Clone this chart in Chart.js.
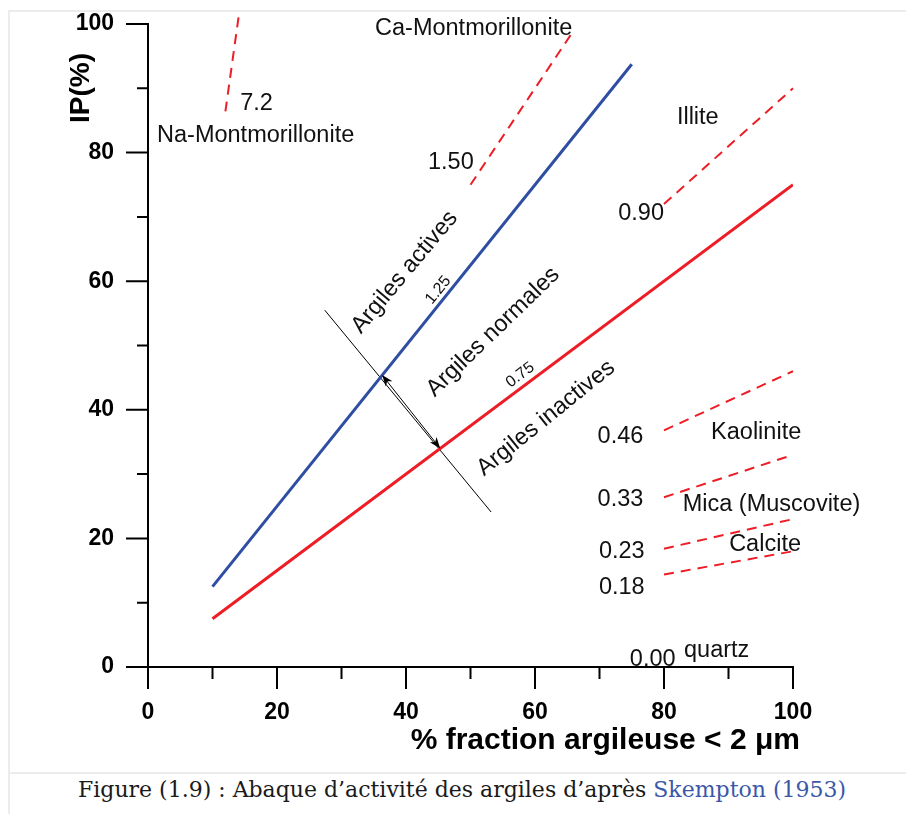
<!DOCTYPE html>
<html>
<head>
<meta charset="utf-8">
<script src="https://cdn.jsdelivr.net/npm/chart.js@4.4.0/dist/chart.umd.min.js"></script>
<style>
  body { margin: 0; background: #fff; width: 906px; height: 814px; overflow: hidden; position: relative; }
  #wrap { position: absolute; left: 0; top: 0; width: 906px; height: 773px; }
  .rule { position: absolute; background: #ececec; }
  #caption { position: absolute; left: 78px; top: 777px; white-space: nowrap;
    font-family: 'DejaVu Serif', serif; font-size: 22px; color: #1a1a1a; }
  #caption span { color: #3b58a8; }
</style>
</head>
<body>
<div class="rule" style="left:8px;top:10px;width:898px;height:2px"></div>
<div class="rule" style="left:8px;top:10px;width:2px;height:804px"></div>
<div class="rule" style="left:8px;top:772px;width:898px;height:2px"></div>
<div id="wrap"><canvas id="abaque" width="906" height="773"></canvas></div>
<div id="caption">Figure (1.9) : Abaque d’activité des argiles d’après <span>Skempton (1953)</span></div>
<script>
// axis ticks
var xTicks = [0, 20, 40, 60, 80, 100];
var yTicks = [0, 20, 40, 60, 80, 100];

// activity boundaries (Ip = A * fraction)
var activeX = [10, 75];
var activeY = [12.5, 93.75];
var inactiveX = [10, 100];
var inactiveY = [7.5, 75];

// mineral lines (dashed), activity
var mineralNames = ['Na-Montmorillonite', 'Ca-Montmorillonite', 'Illite', 'Kaolinite', 'Mica (Muscovite)', 'Calcite', '0.18', 'quartz'];
var mineralActivity = ['7.2', '1.50', '0.90', '0.46', '0.33', '0.23', '0.18', '0.00'];
var mineralX = [[12, 14.1], [50, 66], [80, 100], [80, 100], [80, 100], [80, 100], [80, 100]];
var mineralY = [[86.4, 101.5], [75, 99], [72, 90], [36.8, 46], [26.4, 33], [18.4, 23], [14.4, 18]];

// separation line between zones and the double arrow
var sepX = [27.4, 53.2];
var sepY = [55.5, 24.1];
var arrowX = [36.3, 45.3];
var arrowY = [45.4, 34.0];

function pts(xs, ys) {
    return xs.map(function (x, i) { return { x: x, y: ys[i] }; });
}

var red = '#ee1c25';
var blue = '#2e4ea3';

var datasets = [];
mineralX.forEach(function (xs, i) {
    datasets.push({
        label: mineralNames[i],
        data: pts(xs, mineralY[i]),
        borderColor: red,
        borderWidth: 2,
        borderDash: [10, 7],
        clip: false
    });
});
datasets.push({ label: 'actives', data: pts(activeX, activeY), borderColor: blue, borderWidth: 3 });
datasets.push({ label: 'inactives', data: pts(inactiveX, inactiveY), borderColor: red, borderWidth: 3 });
datasets.push({ label: 'sep', data: pts(sepX, sepY), borderColor: '#000', borderWidth: 1 });
datasets.push({ label: 'arrow', data: pts(arrowX, arrowY), borderColor: '#000', borderWidth: 1 });

datasets.forEach(function (d) {
    d.showLine = true;
    d.pointRadius = 0;
    d.fill = false;
});

// text placed on the chart (data coordinates)
var notes = [
    { t: '7.2', x: 14.3, y: 87.7, a: 'left' },
    { t: 'Na-Montmorillonite', x: 1.4, y: 82.6, a: 'left' },
    { t: 'Ca-Montmorillonite', x: 35.2, y: 99.3, a: 'left' },
    { t: '1.50', x: 50.5, y: 78.4, a: 'right' },
    { t: 'Illite', x: 82.0, y: 85.5, a: 'left' },
    { t: '0.90', x: 80.0, y: 70.6, a: 'right' },
    { t: '0.46', x: 76.8, y: 35.8, a: 'right' },
    { t: 'Kaolinite', x: 87.3, y: 36.5, a: 'left' },
    { t: '0.33', x: 76.8, y: 26.1, a: 'right' },
    { t: 'Mica (Muscovite)', x: 82.9, y: 25.2, a: 'left' },
    { t: '0.23', x: 77.0, y: 18.0, a: 'right' },
    { t: 'Calcite', x: 90.1, y: 19.0, a: 'left' },
    { t: '0.18', x: 77.0, y: 12.3, a: 'right' },
    { t: '0.00', x: 74.7, y: 1.2, a: 'left' },
    { t: 'quartz', x: 83.1, y: 2.6, a: 'left' },
    { t: 'Argiles actives', x: 39.8, y: 61.4, a: 'center', r: -50 },
    { t: '1.25', x: 45.0, y: 58.6, a: 'center', r: -51, s: 16 },
    { t: 'Argiles normales', x: 53.5, y: 52.1, a: 'center', r: -44 },
    { t: '0.75', x: 57.7, y: 45.4, a: 'center', r: -37, s: 16 },
    { t: 'Argiles inactives', x: 61.7, y: 38.7, a: 'center', r: -39 }
];

var decor = {
    id: 'decor',
    afterDatasetsDraw: function (chart) {
        var ctx = chart.ctx;
        var xs = chart.scales.x, ys = chart.scales.y;
        var area = chart.chartArea;
        ctx.save();

        // tick marks, major every 20, minor every 10
        ctx.strokeStyle = '#000';
        ctx.lineWidth = 2;
        ctx.beginPath();
        ys.ticks.forEach(function (t) {
            var p = ys.getPixelForValue(t.value);
            var len = t.value % 20 === 0 ? 22 : 11;
            ctx.moveTo(area.left - len, p);
            ctx.lineTo(area.left, p);
        });
        xs.ticks.forEach(function (t) {
            var p = xs.getPixelForValue(t.value);
            var len = t.value % 20 === 0 ? 22 : 12;
            ctx.moveTo(p, area.bottom);
            ctx.lineTo(p, area.bottom + len);
        });
        ctx.stroke();

        // arrow heads (small barbed)
        var ax0 = xs.getPixelForValue(arrowX[0]), ay0 = ys.getPixelForValue(arrowY[0]);
        var ax1 = xs.getPixelForValue(arrowX[1]), ay1 = ys.getPixelForValue(arrowY[1]);
        var ang = Math.atan2(ay1 - ay0, ax1 - ax0);
        ctx.fillStyle = '#000';
        [[ax1, ay1, ang], [ax0, ay0, ang + Math.PI]].forEach(function (h) {
            var x = h[0], y = h[1], a = h[2];
            ctx.beginPath();
            ctx.moveTo(x, y);
            ctx.lineTo(x - 12 * Math.cos(a - 0.36), y - 12 * Math.sin(a - 0.36));
            ctx.lineTo(x - 8 * Math.cos(a), y - 8 * Math.sin(a));
            ctx.lineTo(x - 12 * Math.cos(a + 0.36), y - 12 * Math.sin(a + 0.36));
            ctx.closePath();
            ctx.fill();
        });

        // labels
        ctx.fillStyle = '#111';
        ctx.textBaseline = 'middle';
        notes.forEach(function (n) {
            ctx.save();
            ctx.font = (n.s || 23.5) + 'px "Liberation Sans", Arial, sans-serif';
            ctx.textAlign = n.a;
            ctx.translate(xs.getPixelForValue(n.x), ys.getPixelForValue(n.y));
            if (n.r) ctx.rotate(n.r * Math.PI / 180);
            ctx.fillText(n.t, 0, 0);
            ctx.restore();
        });

        // axis titles
        ctx.fillStyle = '#000';
        ctx.font = 'bold 30px "Liberation Sans", Arial, sans-serif';
        ctx.textAlign = 'right';
        ctx.fillText('% fraction argileuse < 2 \u03bcm', area.right + 7, 741);
        ctx.save();
        ctx.translate(81, 88);
        ctx.rotate(-Math.PI / 2);
        ctx.textAlign = 'center';
        ctx.font = 'bold 28px "Liberation Sans", Arial, sans-serif';
        ctx.fillText('IP(%)', 0, 0);
        ctx.restore();

        ctx.restore();
    }
};

var tickFont = { family: '"Liberation Sans", Arial, sans-serif', size: 23, weight: 'bold' };

var chart = new Chart(document.getElementById('abaque'), {
    type: 'scatter',
    data: { datasets: datasets },
    options: {
        responsive: false,
        animation: false,
        layout: { padding: { left: 0, right: 113, top: 24, bottom: 0 } },
        plugins: { legend: { display: false }, tooltip: { enabled: false } },
        scales: {
            x: {
                min: 0, max: 100,
                afterFit: function (s) { s.height = 106; s.paddingLeft = 0; s.paddingRight = 0; },
                grid: { drawOnChartArea: false, drawTicks: false },
                border: { color: '#000', width: 2 },
                ticks: {
                    stepSize: 10, padding: 32, color: '#000', font: tickFont, maxRotation: 0, autoSkip: false,
                    callback: function (v) { return xTicks.indexOf(v) >= 0 ? v : ''; }
                }
            },
            y: {
                min: 0, max: 100,
                afterFit: function (s) { s.width = 148; s.paddingTop = 0; s.paddingBottom = 0; },
                grid: { drawOnChartArea: false, drawTicks: false },
                border: { color: '#000', width: 2 },
                ticks: {
                    stepSize: 10, padding: 34, color: '#000', font: tickFont, autoSkip: false,
                    callback: function (v) { return yTicks.indexOf(v) >= 0 ? v : ''; }
                }
            }
        }
    },
    plugins: [decor]
});
</script>
</body>
</html>
